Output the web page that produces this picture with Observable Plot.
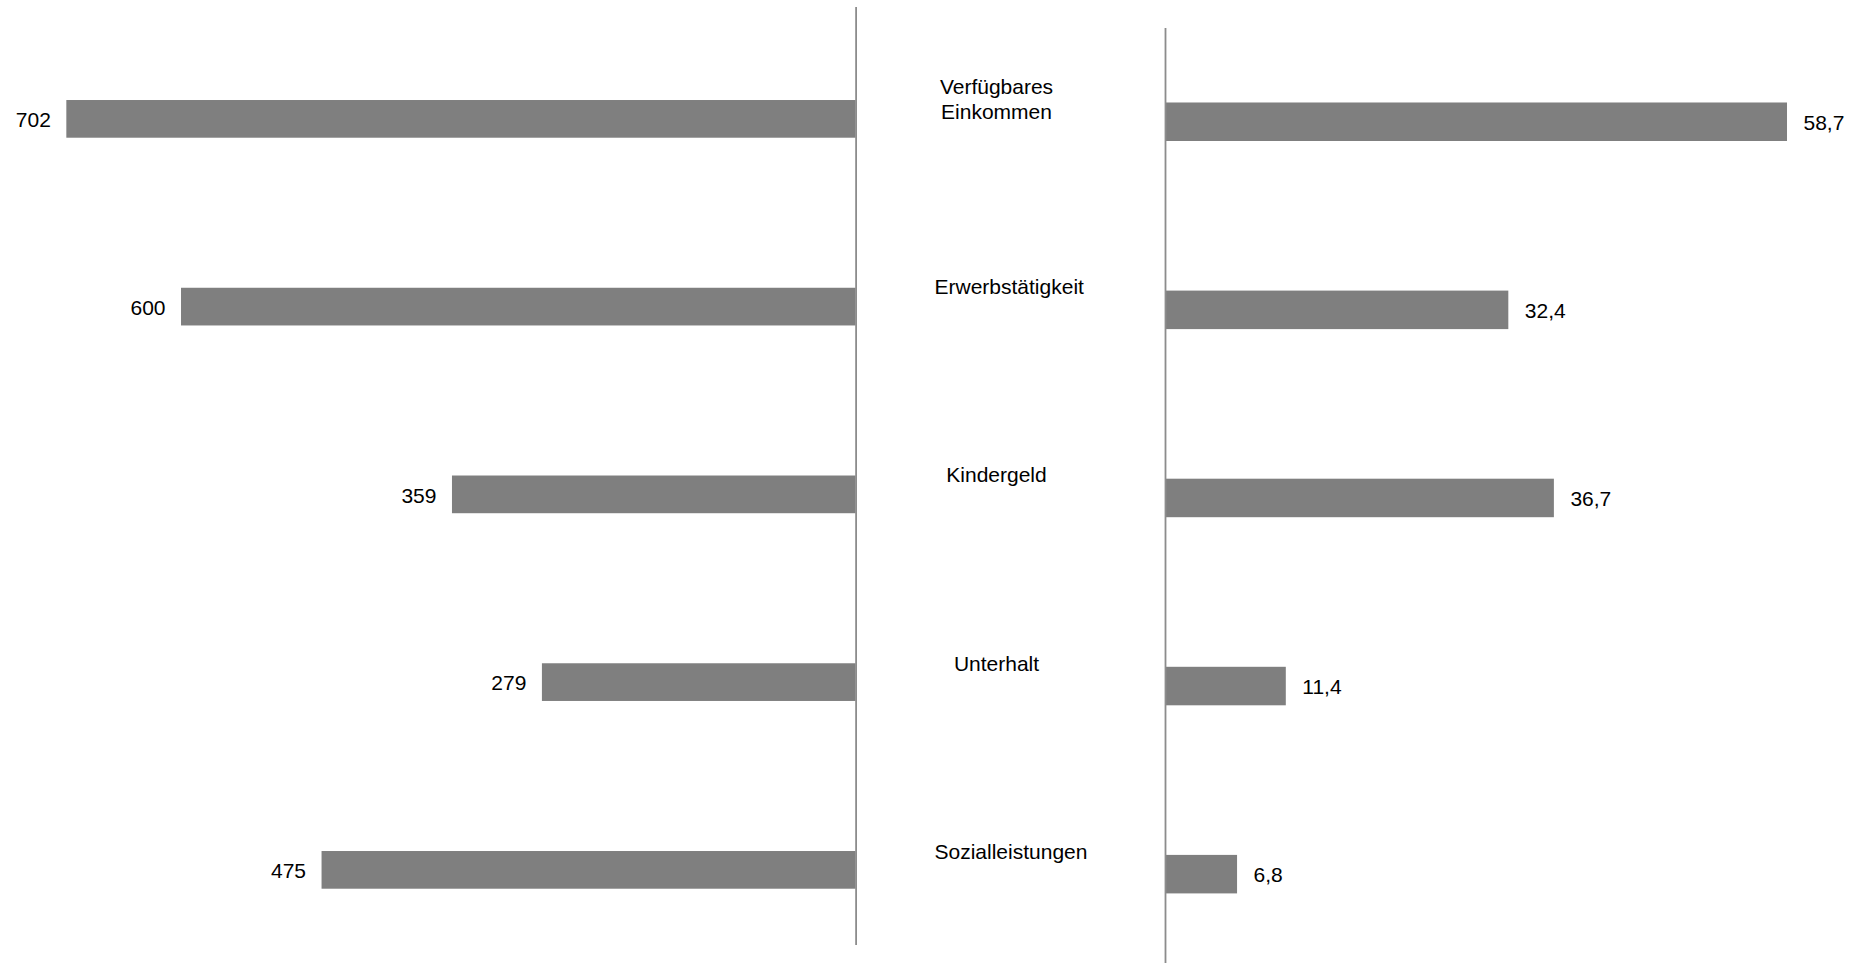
<!DOCTYPE html>
<html>
<head>
<meta charset="utf-8">
<script src="https://cdn.jsdelivr.net/npm/d3@7"></script>
<script src="https://cdn.jsdelivr.net/npm/@observablehq/plot@0.6"></script>
<style>
  html, body { margin: 0; padding: 0; background: #ffffff; }
  #chart { position: relative; width: 1858px; height: 963px; background: #ffffff; overflow: hidden; }
  #chart svg { position: absolute; left: 0; top: 0; }
</style>
</head>
<body>
<div id="chart"></div>
<script>
// ---- Data ----
const categories = ["Verfügbares\nEinkommen", "Erwerbstätigkeit", "Kindergeld", "Unterhalt", "Sozialleistungen"];
const leftValues = [702, 600, 359, 279, 475];
const rightValues = [58.7, 32.4, 36.7, 11.4, 6.8];

const leftData = categories.map((c, i) => ({category: c, value: leftValues[i]}));
const rightData = categories.map((c, i) => ({category: c, value: rightValues[i]}));

const W = 1858, H = 963;
const FONT = "'Liberation Sans', Arial, sans-serif";
const FS = 21;
const barColor = "#7f7f7f";
const axisColor = "#8c8c8c";
const fmtDe = (v) => Number.isInteger(v) ? String(v) : v.toFixed(1).replace(".", ",");

// measure label widths to mimic wrapped label box (long labels start at box left)
const ctx = document.createElement("canvas").getContext("2d");
ctx.font = `${FS}px ${FONT}`;
const labelBoxWidth = 124;
const isLong = (c) => Math.max(...c.split("\n").map(s => ctx.measureText(s).width)) > labelBoxWidth;

const baseStyle = {background: "transparent", fontFamily: FONT, fontSize: FS + "px", color: "#000", overflow: "visible"};

// ---- Left panel ----
const left = Plot.plot({
  width: W, height: H,
  marginLeft: 0, marginRight: 1002.4, marginTop: 7, marginBottom: 18,
  style: baseStyle,
  x: {domain: [0, 761], reverse: true, axis: null},
  y: {domain: categories, axis: null, round: false, paddingInner: 0.7992, paddingOuter: 0.3976, align: 0.623},
  marks: [
    Plot.barX(leftData, {x: "value", y: "category", fill: barColor}),
    Plot.ruleX([0], {stroke: axisColor, strokeWidth: 1.8}),
    Plot.text(leftData, {x: "value", y: "category", text: d => fmtDe(d.value), textAnchor: "end", dx: -16, dy: 1, fill: "#000", fontSize: FS})
  ]
});

// ---- Right panel ----
const right = Plot.plot({
  width: W, height: H,
  marginLeft: 1165, marginRight: 0, marginTop: 28, marginBottom: 0,
  style: baseStyle,
  x: {domain: [0, 65.4], axis: null},
  y: {domain: categories, axis: null, round: false, paddingInner: 0.7953, paddingOuter: 0.383, align: 0.517},
  marks: [
    Plot.barX(rightData, {x: "value", y: "category", fill: barColor}),
    Plot.ruleX([0], {stroke: axisColor, strokeWidth: 1.8}),
    Plot.text(rightData, {x: "value", y: "category", text: d => fmtDe(d.value), textAnchor: "start", dx: 16, dy: 1, fill: "#000", fontSize: FS}),
    // category labels between the two panels
    Plot.text(rightData.filter(d => !isLong(d.category)), {x: () => 0, y: "category", text: "category", textAnchor: "middle", dx: -169, dy: -24, lineHeight: 1.19, fill: "#000", fontSize: FS}),
    Plot.text(rightData.filter(d => isLong(d.category)), {x: () => 0, y: "category", text: "category", textAnchor: "start", dx: -231, dy: -24, lineHeight: 1.19, fill: "#000", fontSize: FS})
  ]
});

const chart = document.getElementById("chart");
chart.appendChild(left);
chart.appendChild(right);
</script>
</body>
</html>
